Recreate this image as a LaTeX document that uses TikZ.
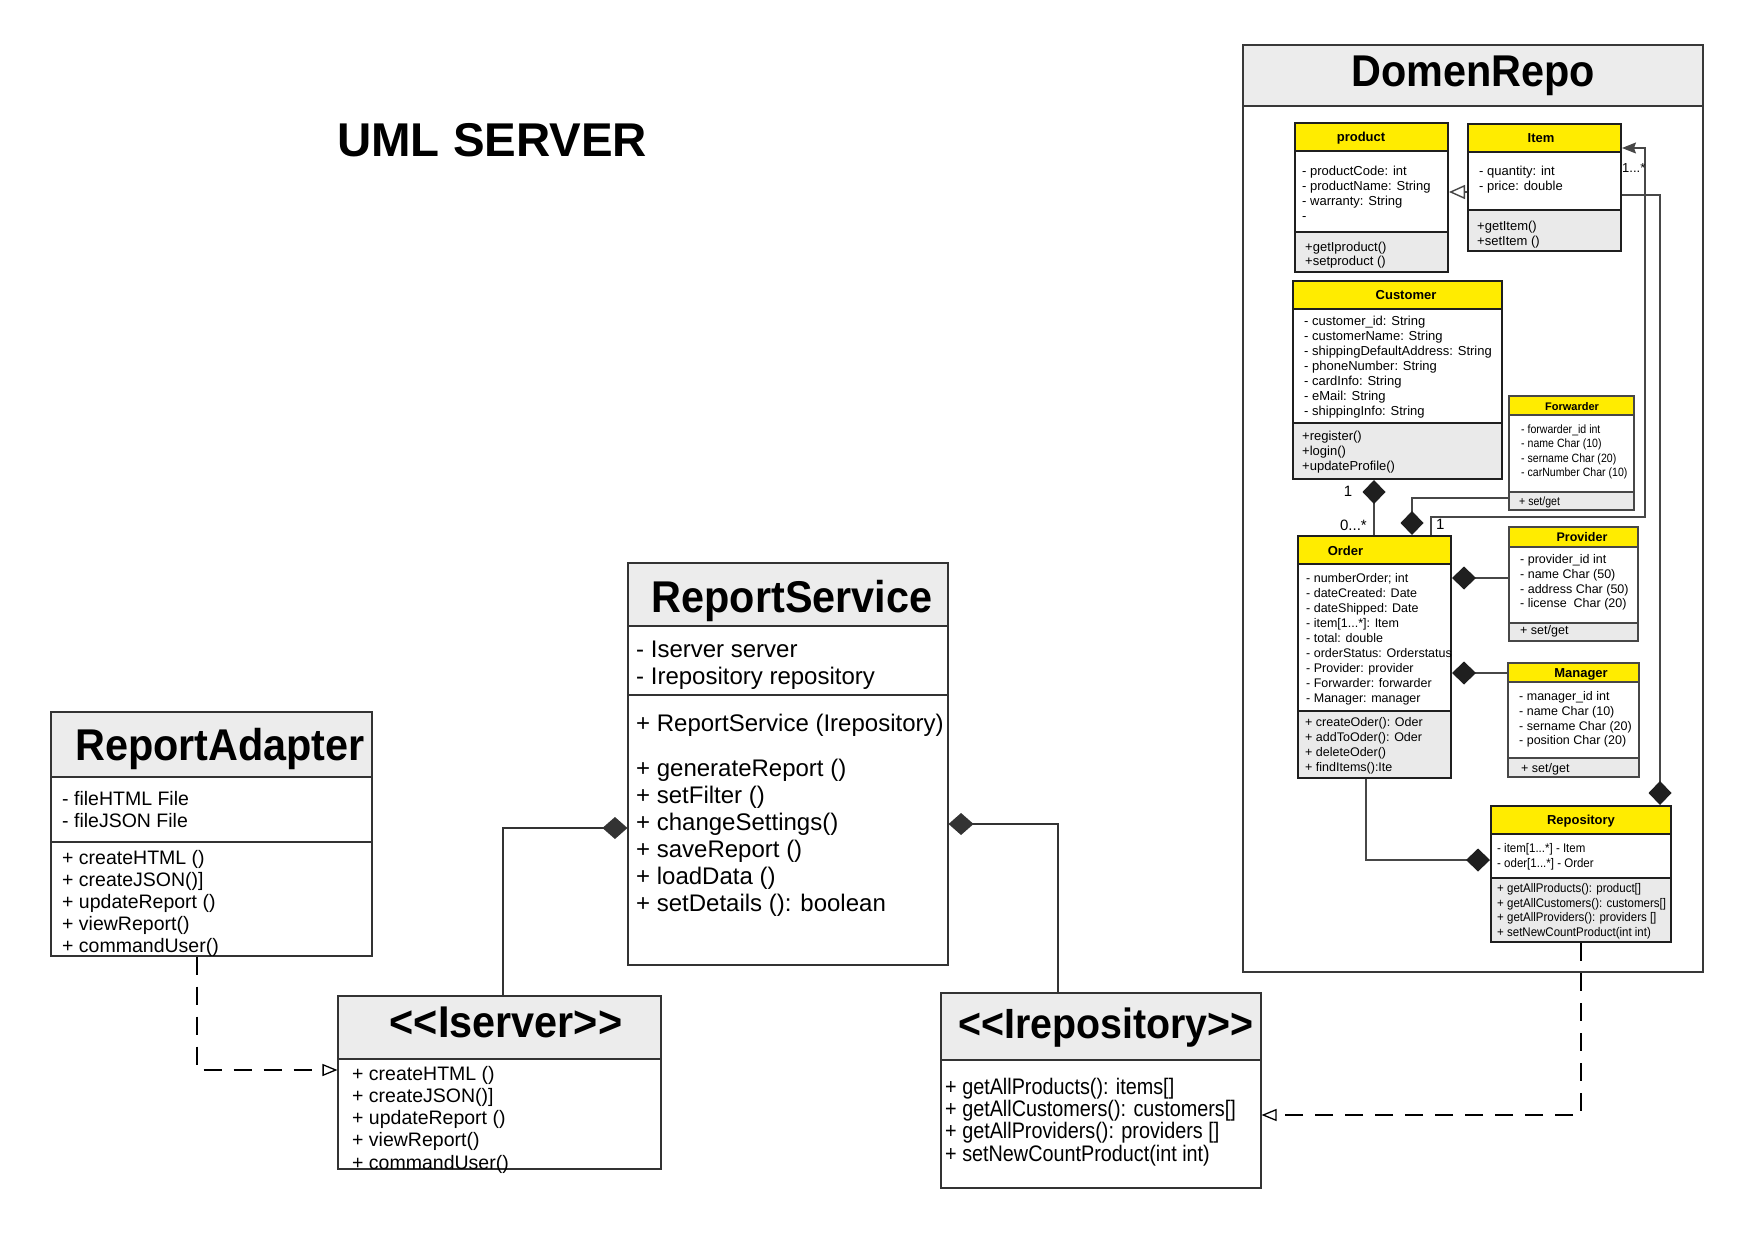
\documentclass[tikz,border=0pt]{standalone}
\usepackage{fontspec}
\setmainfont{Liberation Sans}
\newfontfamily\ttlfont{Liberation Sans}[FakeStretch=0.93,Ligatures=TeXOff]
\newfontfamily\nrwfont{Liberation Sans}[FakeStretch=0.88]
\newfontfamily\rpfont{Liberation Sans}[FakeStretch=0.92]
\usetikzlibrary{arrows.meta,fit}
\definecolor{yel}{RGB}{255,236,0}
\definecolor{hgray}{RGB}{236,236,236}
\definecolor{mgray}{RGB}{234,234,234}
\definecolor{ln}{RGB}{51,51,51}
\newcommand\fs[1]{\fontsize{#1pt}{#1pt}\selectfont}
% text block: name, family, x, first baseline, size, skip, lines
\newcommand\blk[7]{%
  \node[anchor=north west, align=left, inner sep=0pt, font={#2\fontsize{#5pt}{#6pt}\selectfont}] (#1) at (#3,{#4-#5}) {\rule{0pt}{#5pt}#7};}
% domain class: name, style, x1, y1, x2, y header, y attr, y2
\newcommand\dcls[8]{%
  \fill[yel] (#3,#4) rectangle (#5,#6);
  \fill[mgray] (#3,#7) rectangle (#5,#8);
  \draw[#2] (#3,#6) -- (#5,#6) (#3,#7) -- (#5,#7);
  \node[#2, fit={(#3,#4) (#5,#8)}, inner sep=0pt] (#1) {};}
% left class: name, x1, y1, x2, y header, y2
\newcommand\lcls[6]{%
  \fill[hgray] (#2,#3) rectangle (#4,#5);
  \draw[lbox] (#2,#5) -- (#4,#5);
  \node[lbox, fit={(#2,#3) (#4,#6)}, inner sep=0pt] (#1) {};}
\begin{document}
\begin{tikzpicture}[x=1pt,y=-1pt,
  lbox/.style={draw=ln, line width=1.1pt},
  dbox/.style={draw=black!88, line width=2pt},
  dthin/.style={draw=black!72, line width=1.3pt},
  frame/.style={draw=black!78, line width=1.3pt},
  ttl/.style={inner sep=0pt, font={\ttlfont\bfseries\fontsize{44.5pt}{44.5pt}\selectfont}},
  hdrtxt/.style={inner sep=0pt, anchor=base, font={\bfseries\fs{13}}},
  lbl/.style={inner sep=0pt, font={\fs{15}}},
  comp/.style={draw=black!72, line width=1.1pt, {Diamond[length=24pt,width=23pt,color=black!88,fill=black!88]}-},
  compL/.style={draw=ln, line width=1.8pt, {Diamond[length=25pt,width=22pt]}-},
  real/.style={draw=black, line width=1.6pt, dash pattern=on 18pt off 12pt, -{Triangle[open,length=15pt,width=12pt,line width=1.3pt]}},
  gen/.style={draw=black!72, line width=1.1pt, -{Triangle[open,length=16pt,width=14pt,line width=1.4pt]}},
  assocA/.style={draw=black!72, line width=1.1pt, -{Stealth[length=14pt,width=11pt,inset=2pt]}}
]
\useasboundingbox (0,0) rectangle (1754,1241);

% ---------- title ----------
\node[anchor=base west, inner sep=0pt, font={\bfseries\fs{47.4}}] (umlT) at (337,157) {UML SERVER};

% ---------- DomenRepo frame ----------
\fill[hgray] (1243,45) rectangle (1703,106);
\draw[frame] (1243,106) -- (1703,106);
\node[frame, fit={(1243,45) (1703,972)}, inner sep=0pt] (domen) {};
\node[ttl, anchor=base] (domenT) at (1473,87) {DomenRepo};

% ---------- domain classes ----------
\dcls{product}{dbox}{1295}{123}{1448}{151}{232}{272}
\dcls{item}{dbox}{1468}{124}{1621}{152}{210}{251}
\dcls{customer}{dbox}{1293}{281}{1502}{309}{423}{479}
\dcls{forwarder}{dthin}{1509}{396}{1634}{415}{492}{510}
\dcls{order}{dbox}{1298}{536}{1451}{564}{711}{778}
\dcls{provider}{dthin}{1509}{527}{1638}{547}{623}{641}
\dcls{manager}{dthin}{1508}{663}{1639}{682}{758}{777}
\dcls{repo}{dbox}{1491}{806}{1671}{834}{878}{942}

\node[hdrtxt] (productT) at (1361,141.7) {product};
\node[hdrtxt] (itemT) at (1541,142.7) {Item};
\node[hdrtxt] (customerT) at (1406,299.7) {Customer};
\node[hdrtxt, font={\bfseries\fs{11}}] (forwarderT) at (1572,410) {Forwarder};
\node[hdrtxt] (orderT) at (1345.5,555.5) {Order};
\node[hdrtxt, font={\bfseries\fs{12.5}}] (providerT) at (1582,541.5) {Provider};
\node[hdrtxt] (managerT) at (1581,677.5) {Manager};
\node[hdrtxt] (repoT) at (1581,824.7) {Repository};

\blk{productA}{\normalfont}{1302}{175.5}{13}{15}{- productCode: int\\- productName: String\\- warranty: String\\-}
\blk{productM}{\normalfont}{1305}{251.5}{13}{14}{+getIproduct()\\+setproduct ()}
\blk{itemA}{\normalfont}{1479}{175.5}{13}{15}{- quantity: int\\- price: double}
\blk{itemM}{\normalfont}{1477}{230.5}{13}{15}{+getItem()\\+setItem ()}
\blk{customerA}{\normalfont}{1304}{325.5}{13}{15}{- customer\_id: String\\- customerName: String\\- shippingDefaultAddress: String\\- phoneNumber: String\\- cardInfo: String\\- eMail: String\\- shippingInfo: String}
\blk{customerM}{\normalfont}{1302}{440.5}{13}{15}{+register()\\+login()\\+updateProfile()}
\blk{forwarderA}{\nrwfont}{1521}{433}{12}{14.5}{- forwarder\_id int\\- name Char (10)\\- sername Char (20)\\- carNumber Char (10)}
\blk{forwarderM}{\nrwfont}{1519}{505}{12}{14.5}{+ set/get}
\blk{providerA}{\normalfont}{1520}{563.5}{12.5}{14.7}{- provider\_id int\\- name Char (50)\\- address Char (50)\\- license\ \ Char (20)}
\blk{providerM}{\normalfont}{1520}{634.5}{12.5}{14.7}{+ set/get}
\blk{managerA}{\normalfont}{1519}{700.5}{12.5}{14.7}{- manager\_id int\\- name Char (10)\\- sername Char (20)\\- position Char (20)}
\blk{managerM}{\normalfont}{1521}{772.5}{12.5}{14.7}{+ set/get}
\blk{orderA}{\normalfont}{1306}{582.5}{12.5}{15}{- numberOrder; int\\- dateCreated: Date\\- dateShipped: Date\\- item[1...*]: Item\\- total: double\\- orderStatus: Orderstatus\\- Provider: provider\\- Forwarder: forwarder\\- Manager: manager}
\blk{orderM}{\normalfont}{1305}{726.5}{12.5}{15}{+ createOder(): Oder\\+ addToOder(): Oder\\+ deleteOder()\\+ findItems():Ite}
\blk{repoA}{\rpfont}{1497}{852.5}{12.5}{15}{- item[1...*] - Item\\- oder[1...*] - Order}
\blk{repoM}{\rpfont}{1497}{892.5}{12.5}{14.5}{+ getAllProducts(): product[]\\+ getAllCustomers(): customers[]\\+ getAllProviders(): providers []\\+ setNewCountProduct(int int)}

% ---------- domain connectors ----------
\draw[gen] (item.west |- 0,192) -- (product.east |- 0,192);
\draw[assocA] (order.north -| 1431,0) |- (1645,517) |- (item.east |- 0,148);
\draw[comp] (repo.north -| 1660,0) |- (item.east |- 0,195);
\draw[comp] (customer.south -| 1374,0) -- (order.north -| 1374,0);
\draw[comp] (order.north -| 1412,0) |- (forwarder.west |- 0,498);
\draw[comp] (order.east |- 0,578) -- (provider.west |- 0,578);
\draw[comp] (order.east |- 0,673) -- (manager.west |- 0,673);
\draw[comp] (repo.west |- 0,860) -| (order.south -| 1366,0);

\node[lbl, anchor=base] (m1) at (1348,496) {1};
\node[lbl, anchor=base east] (m2) at (1367,530) {0...*};
\node[lbl, anchor=base west] (m3) at (1436,529) {1};
\node[lbl, anchor=base west, font={\fs{13}}] (m4) at (1622,173) {1...*};

% ---------- server classes ----------
\lcls{ra}{51}{712}{372}{777}{956}
\draw[lbox] (ra.west |- 0,842) -- (ra.east |- 0,842);
\lcls{rs}{628}{563}{948}{626}{965}
\draw[lbox] (rs.west |- 0,695) -- (rs.east |- 0,695);
\lcls{is}{338}{996}{661}{1059}{1169}
\lcls{ir}{941}{993}{1261}{1060}{1188}

\node[ttl, anchor=base] (raT) at (220,760) {ReportAdapter};
\node[ttl, anchor=base] (rsT) at (792,612) {ReportService};
\node[ttl, anchor=base] (isT) at (506,1037) {<<Iserver>>};
\node[ttl, anchor=base, font={\ttlfont\bfseries\fontsize{42.3pt}{42.3pt}\selectfont}] (irT) at (1106,1038) {<<Irepository>>};

\blk{raA}{\normalfont}{62}{805}{19.5}{22}{- fileHTML File\\- fileJSON File}
\blk{raM}{\normalfont}{62}{864}{19.5}{22}{+ createHTML ()\\+ createJSON()]\\+ updateReport ()\\+ viewReport()\\+ commandUser()}
\blk{rsA}{\normalfont}{636}{657}{24}{27}{- Iserver server\\- Irepository repository}
\blk{rsC}{\normalfont}{636}{731}{24}{27}{+ ReportService (Irepository)}
\blk{rsM}{\normalfont}{636}{776}{24}{27}{+ generateReport ()\\+ setFilter ()\\+ changeSettings()\\+ saveReport ()\\+ loadData ()\\+ setDetails (): boolean}
\blk{isM}{\normalfont}{352}{1080}{19.5}{22.2}{+ createHTML ()\\+ createJSON()]\\+ updateReport ()\\+ viewReport()\\+ commandUser()}
\blk{irM}{\nrwfont}{945}{1094}{22.5}{22.3}{+ getAllProducts(): items[]\\+ getAllCustomers(): customers[]\\+ getAllProviders(): providers []\\+ setNewCountProduct(int int)}

% ---------- server connectors ----------
\draw[compL] (rs.west |- 0,828) -| (is.north -| 503,0);
\draw[compL] (rs.east |- 0,824) -| (ir.north -| 1058,0);
\draw[real] (ra.south -| 197,0) |- (is.west |- 0,1070);
\draw[real] (repo.south -| 1581,0) |- (ir.east |- 0,1115);
\end{tikzpicture}
\end{document}
